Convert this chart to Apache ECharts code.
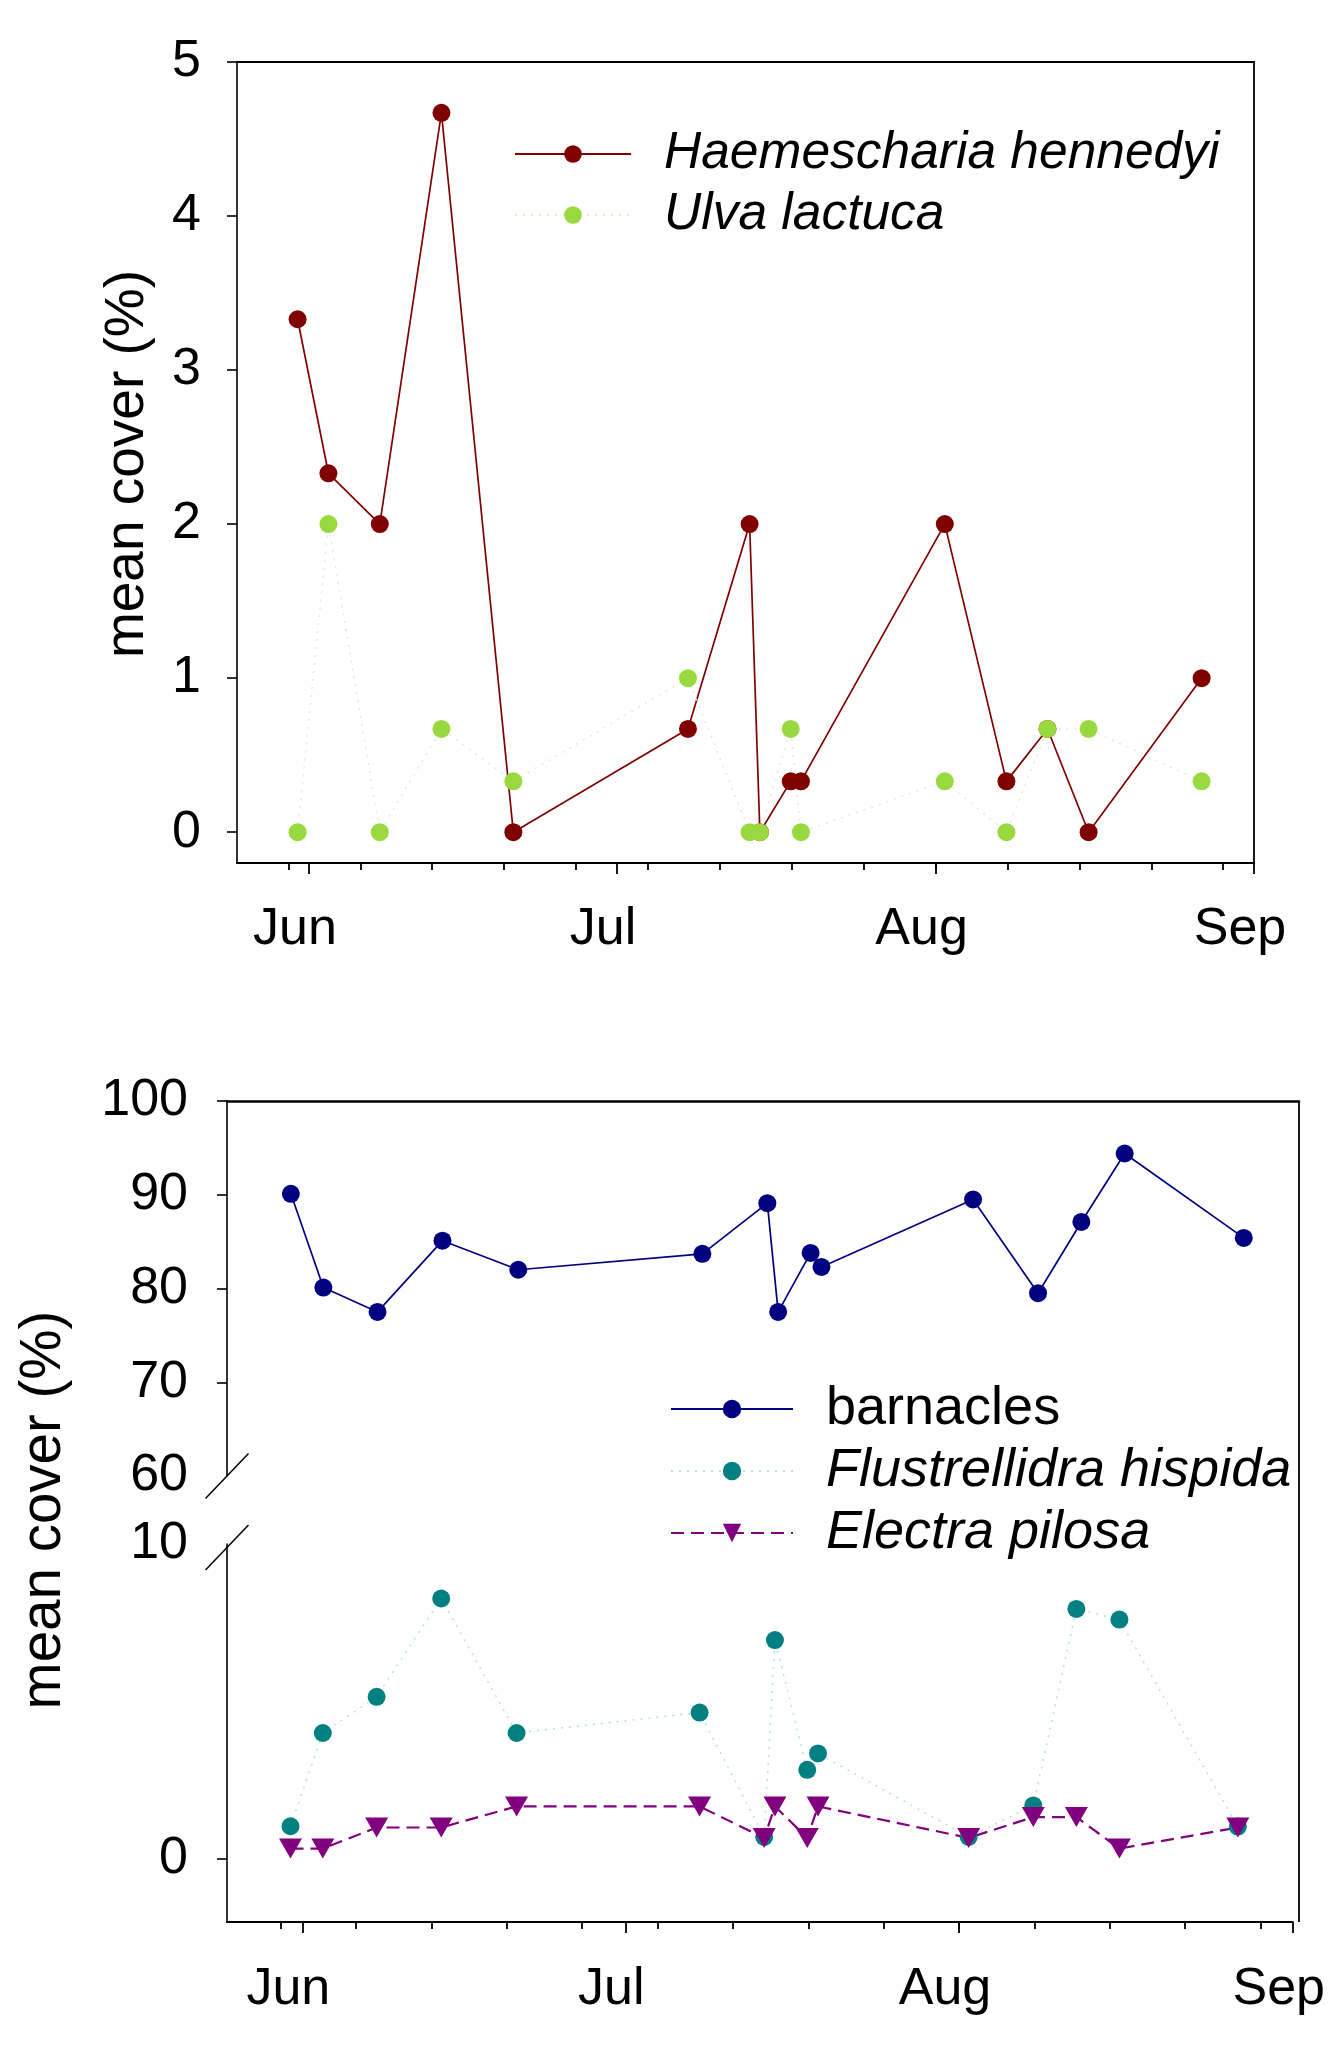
<!DOCTYPE html>
<html><head><meta charset="utf-8">
<script src="https://cdn.jsdelivr.net/npm/echarts@6/dist/echarts.min.js"></script>
<style>html,body{margin:0;padding:0;background:#fff}#c{width:1328px;height:2064px}</style>
</head><body><div id="c"></div>
<script>
// ---- data (days counted from 1 June) ----
const days = [-1.1, 1.9, 6.9, 12.9, 19.9, 36.9, 42.9, 43.9, 46.9, 47.9, 61.9, 67.9, 71.9, 75.9, 86.9];
const haemescharia = [3.33, 2.33, 2.0, 4.67, 0, 0.67, 2.0, 0, 0.33, 0.33, 2.0, 0.33, 0.67, 0, 1.0];
const ulva = [0, 2.0, 0, 0.67, 0.33, 1.0, 0, 0, 0.67, 0, 0.33, 0, 0.67, 0.67, 0.33];
const barnacles = [90.1, 80.1, 77.5, 85.1, 82.0, 83.7, 89.1, 77.5, 83.8, 82.3, 89.5, 79.5, 87.1, 94.4, 85.4];
const flustrellidra = [1.04, 4.0, 5.15, 8.27, 4.0, 4.65, 0.7, 6.95, 2.83, 3.35, 0.7, 1.7, 7.94, 7.6, 1.03];
const electra = [0.33, 0.33, 1.0, 1.0, 1.67, 1.67, 0.67, 1.67, 0.67, 1.67, 0.67, 1.33, 1.33, 0.33, 1.0];
const monthTicks = [0, 30, 61, 92];
const monthLabels = ['Jun', 'Jul', 'Aug', 'Sep'];
const weekTicks = [-2, 5, 12, 19, 26, 33, 40, 47, 54, 61, 68, 75, 82, 89];
const topYLabels = [0, 1, 2, 3, 4, 5];
const upperYLabels = [60, 70, 80, 90, 100];
const upperYTicks = [70, 80, 90, 100];
const lowerYLabels = [0, 10];
const lowerYTicks = [0];

// ---- layout ----
const FONT = '"Liberation Sans", Arial, sans-serif';
const G0 = {left: 237, top: 62, width: 1017, height: 801};
const G1 = {left: 227, top: 1101, width: 1072, height: 375};
const G2 = {left: 227, top: 1544, width: 1072, height: 378};
const XMIN = -7, XMAX = 92;

function pts(ys) { return days.map((d, i) => [d, ys[i]]); }

function majorX(g, margin) {
  return {type: 'value', gridIndex: g, min: XMIN, max: XMAX, position: 'bottom',
    splitLine: {show: false},
    axisLine: {show: true, onZero: false, lineStyle: {color: '#000', width: 2.2}},
    axisTick: {show: true, customValues: monthTicks, length: 11, lineStyle: {color: '#000', width: 1.8}},
    axisLabel: {show: true, customValues: monthTicks,
      formatter: v => monthLabels[monthTicks.indexOf(v)],
      fontFamily: FONT, fontSize: 52, color: '#000', margin: margin, padding: [0, 28, 0, 0]}};
}
function minorX(g) {
  return {type: 'value', gridIndex: g, min: XMIN, max: XMAX, position: 'bottom',
    splitLine: {show: false}, axisLine: {show: false, onZero: false},
    axisTick: {show: true, customValues: weekTicks, length: 7, lineStyle: {color: '#000', width: 1.8}},
    axisLabel: {show: false}};
}
function borderX(g, w) {
  return {type: 'value', gridIndex: g, min: XMIN, max: XMAX, position: 'top',
    splitLine: {show: false},
    axisLine: {show: true, onZero: false, lineStyle: {color: '#000', width: w}},
    axisTick: {show: false}, axisLabel: {show: false}};
}
function leftY(g, min, max, labels, ticks, margin) {
  return {type: 'value', gridIndex: g, min: min, max: max, position: 'left',
    splitLine: {show: false},
    axisLine: {show: true, onZero: false, lineStyle: {color: '#000', width: 1.6}},
    axisTick: {show: true, customValues: ticks, length: 10, lineStyle: {color: '#000', width: 1.6}},
    axisLabel: {show: true, customValues: labels, fontFamily: FONT, fontSize: 52, color: '#000', margin: margin}};
}

const circle = {symbol: 'circle', symbolSize: 18, showAllSymbol: true};
const common = {type: 'line', animation: false, clip: false, emphasis: {disabled: true}, z: 3};

const option = {
  animation: false,
  backgroundColor: '#fff',
  grid: [G0, G1, G2].map(g => Object.assign({}, g)),
  xAxis: [majorX(0, 41), minorX(0), borderX(0, 2.2), borderX(1, 2.6), majorX(2, 42), minorX(2)],
  yAxis: [
    leftY(0, -0.2, 5, topYLabels, topYLabels, 36),
    {type: 'value', gridIndex: 0, min: -0.2, max: 5, position: 'right', splitLine: {show: false},
      axisLine: {show: true, onZero: false, lineStyle: {color: '#000', width: 1.8}},
      axisTick: {show: false}, axisLabel: {show: false}},
    leftY(1, 60, 100, upperYLabels, upperYTicks, 39),
    leftY(2, -2, 10, lowerYLabels, lowerYTicks, 39)
  ],
  legend: [
    {data: ['Haemescharia hennedyi', 'Ulva lactuca'], orient: 'vertical', left: 514, top: 126,
      padding: 0, itemWidth: 116, itemHeight: 22, itemGap: 5, selectedMode: false,
      textStyle: {fontFamily: FONT, fontSize: 51.5, fontStyle: 'italic', color: '#000', lineHeight: 56, padding: [0, 0, 0, 28]}},
    {data: ['barnacles', 'Flustrellidra hispida', 'Electra pilosa'], orient: 'vertical', left: 670, top: 1381,
      padding: 0, itemWidth: 122, itemHeight: 23, itemGap: 6, selectedMode: false,
      formatter: n => n === 'barnacles' ? '{n|' + n + '}' : '{i|' + n + '}',
      textStyle: {fontFamily: FONT, fontSize: 54, color: '#000', lineHeight: 56, padding: [0, 0, 0, 28],
        rich: {n: {fontFamily: FONT, fontSize: 54, color: '#000', lineHeight: 56},
               i: {fontFamily: FONT, fontSize: 54, fontStyle: 'italic', color: '#000', lineHeight: 56}}}}
  ],
  series: [
    Object.assign({}, common, circle, {name: 'Haemescharia hennedyi', xAxisIndex: 0, yAxisIndex: 0, data: pts(haemescharia),
      lineStyle: {color: '#800000', width: 1.7}, itemStyle: {color: '#800000'}}),
    Object.assign({}, common, circle, {name: 'Ulva lactuca', xAxisIndex: 0, yAxisIndex: 0, data: pts(ulva),
      lineStyle: {color: '#e6e9cc', width: 1.5, type: [2, 6]}, itemStyle: {color: '#99d940'}}),
    Object.assign({}, common, circle, {name: 'barnacles', xAxisIndex: 3, yAxisIndex: 2, data: pts(barnacles),
      lineStyle: {color: '#000080', width: 1.7}, itemStyle: {color: '#000080'}}),
    Object.assign({}, common, circle, {name: 'Flustrellidra hispida', xAxisIndex: 4, yAxisIndex: 3, data: pts(flustrellidra),
      lineStyle: {color: '#bcdede', width: 1.5, type: [2, 6]}, itemStyle: {color: '#008080'}}),
    Object.assign({}, common, {name: 'Electra pilosa', xAxisIndex: 4, yAxisIndex: 3, data: pts(electra),
      symbol: 'triangle', symbolRotate: 180, symbolSize: [23, 20], showAllSymbol: true,
      lineStyle: {color: '#800080', width: 2.2, type: [13, 7]}, itemStyle: {color: '#800080'}})
  ],
  graphic: [
    {type: 'line', z: 10, shape: {x1: G1.left + G1.width, y1: G1.top, x2: G1.left + G1.width, y2: G2.top + G2.height},
      style: {stroke: '#000', lineWidth: 1.8}},
    {type: 'line', z: 10, shape: {x1: G1.left - 21.5, y1: G1.top + G1.height + 22.5, x2: G1.left + 21.5, y2: G1.top + G1.height - 22.5},
      style: {stroke: '#000', lineWidth: 1.5}},
    {type: 'line', z: 10, shape: {x1: G2.left - 21.5, y1: G2.top + 26, x2: G2.left + 21.5, y2: G2.top - 19},
      style: {stroke: '#000', lineWidth: 1.5}},
    {type: 'text', z: 10, x: 128, y: 464, rotation: Math.PI / 2,
      style: {text: 'mean cover (%)', fontFamily: FONT, fontSize: 55, fill: '#000', align: 'center', verticalAlign: 'middle'}},
    {type: 'text', z: 10, x: 44, y: 1510, rotation: Math.PI / 2,
      style: {text: 'mean cover (%)', fontFamily: FONT, fontSize: 56.5, fill: '#000', align: 'center', verticalAlign: 'middle'}}
  ]
};
const chart = echarts.init(document.getElementById('c'), null, {renderer: 'canvas'});
chart.setOption(option);
</script></body></html>
